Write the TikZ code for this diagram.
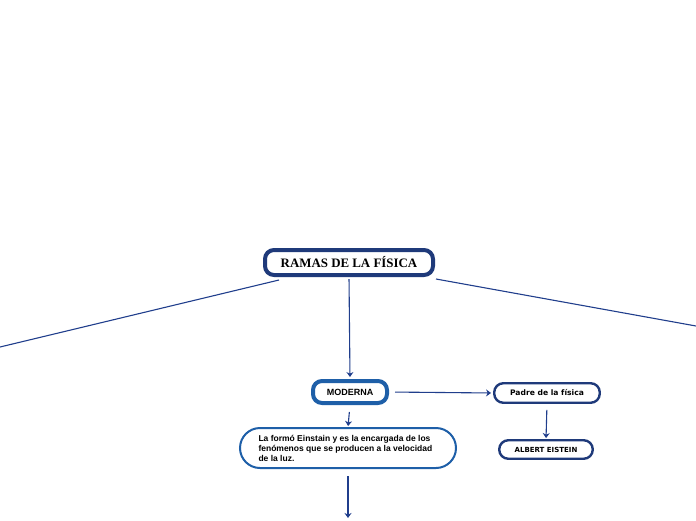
\documentclass[tikz,border=0pt]{standalone}
\usepackage{fontspec}
\setmainfont{Liberation Serif}
\newfontfamily\arial{Liberation Sans}
\newfontfamily\verdana{DejaVu Sans}
\usetikzlibrary{arrows.meta}
\definecolor{marino}{HTML}{1F3A7A}
\definecolor{azul}{HTML}{1E5FA8}
\definecolor{linea}{HTML}{203E8C}
\tikzset{
  caja/.style={draw=marino, fill=white, rounded corners=9pt, line width=2.4pt, inner sep=0pt},
  flecha/.style={draw=linea, line width=1.1pt, -{Stealth[length=5pt,width=7pt]}},
  rama/.style={draw=linea, line width=1.1pt}
}
\begin{document}
\begin{tikzpicture}[x=1pt,y=-1pt]
\useasboundingbox (0,0) rectangle (696,520);
\node[caja, line width=4pt, minimum width=168pt, minimum height=25pt, font=\bfseries\fontsize{12.9}{14}\selectfont] (raiz) at (349,262.5) {RAMAS DE LA FÍSICA};
\node[caja, draw=azul, line width=4pt, minimum width=74pt, minimum height=22pt, font=\arial\bfseries\fontsize{9}{11}\selectfont] (moderna) at (350,392) {MODERNA};
\node[caja, draw=azul, line width=2pt, rounded corners=20pt, minimum width=216pt, minimum height=40pt, text width=179pt, align=flush left, font=\arial\bfseries\fontsize{8.5}{10}\selectfont] (desc) at (348,448) {La formó Einstain y es la encargada de los fenómenos que se producen a la velocidad de la luz.};
\node[caja, minimum width=105.5pt, minimum height=19.5pt, font=\verdana\bfseries\fontsize{7.6}{9}\selectfont] (padre) at (547,393) {Padre de la física};
\node[caja, minimum width=93.5pt, minimum height=18.5pt, font=\verdana\bfseries\fontsize{7}{8}\selectfont] (albert) at (546,449.5) {ALBERT EISTEIN};
\coordinate (izq) at (0,347);
\coordinate (der) at (696,326);
\coordinate (abajo) at (348,518);
\draw[rama] ([xshift=16pt,yshift=-3pt]raiz.south west) -- (izq);
\draw[rama] ([xshift=1pt,yshift=-2pt]raiz.south east) -- (der);
\draw[flecha, shorten <=2pt, shorten >=2pt] (raiz.south) -- (moderna.north);
\draw[flecha, shorten <=6pt, shorten >=2pt] (moderna.east) -- (padre.west);
\draw[flecha, shorten <=7pt, shorten >=1pt] (moderna.south) -- (desc.north);
\draw[flecha, shorten <=6pt, shorten >=1pt] (padre.south) -- (albert.north);
\draw[flecha, shorten <=7pt] (desc.south) -- (abajo);
\end{tikzpicture}
\end{document}
